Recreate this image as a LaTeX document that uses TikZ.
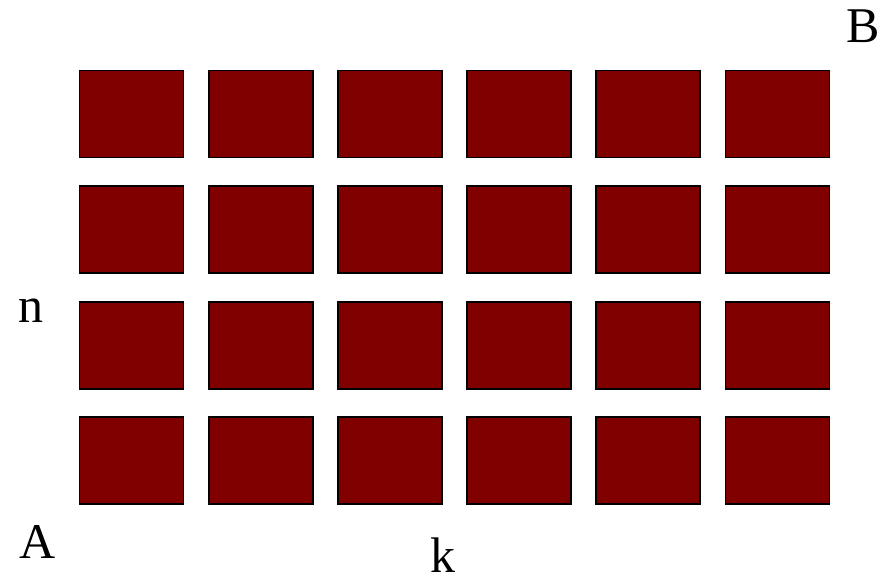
\documentclass[tikz,border=0pt]{standalone}
\usepackage{fontspec}
\setmainfont{Liberation Serif}
\definecolor{cellred}{HTML}{800000}
\tikzset{
    cell/.style={draw=black, fill=cellred, line width=1.8pt, inner sep=0pt,
                 minimum width=104pt, minimum height=87pt, anchor=north west},
    corner/.style={inner sep=0pt, anchor=base west, font=\fontsize{50}{60}\selectfont}
}
\begin{document}
\begin{tikzpicture}[x=1pt, y=-1pt]
    % Fix the page size
    \useasboundingbox (0,0) rectangle (887,579);

    % Draw the grid of cells
    \foreach \i in {0,...,5} {
        \foreach \j in {0,...,3} {
            \node[cell] (c-\i-\j) at ({78.5+129.2*\i},{69.5+115.6*\j}) {};
        }
    }

    % Corner and side labels
    \node[corner] (B) at (846,42) {B};
    \node[corner] (A) at (19,558) {A};
    \node[corner] (n) at (18,322) {n};
    \node[corner] (k) at (430,572) {k};

\end{tikzpicture}
\end{document}
